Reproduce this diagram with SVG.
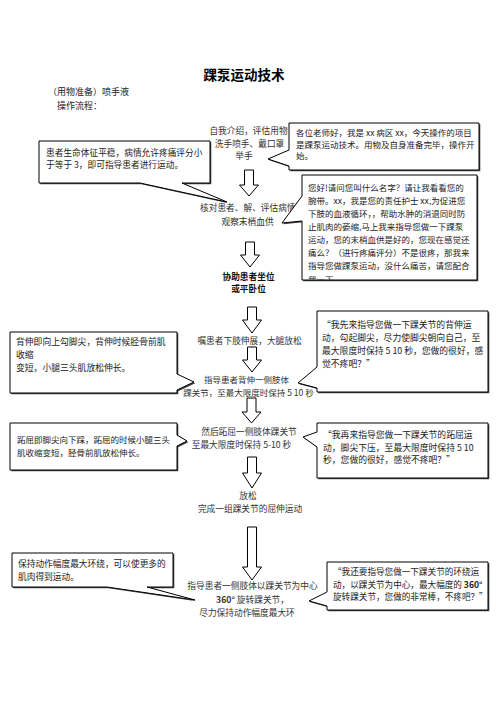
<svg xmlns="http://www.w3.org/2000/svg" width="496" height="702" viewBox="0 0 496 702">
<style>
text{font-family:'Noto Sans CJK SC','Noto Sans',sans-serif;fill:#222;font-size:8.7px}
.m{text-anchor:middle;fill:#333}
.b{font-weight:bold;fill:#111}
.c{fill:#fff;stroke:#000;stroke-width:1}
.sh{fill:#444;stroke:none}
.ar{fill:#fff;stroke:#000;stroke-width:1}
</style>
<defs>
<clipPath id="clip2"><rect x="303" y="176" width="173" height="103.5"/></clipPath>
</defs>
<rect width="496" height="702" fill="#fff"/>
<g id="header">
<text x="244" y="80" class="m b" style="font-size:13.5px;fill:#000">踝泵运动技术</text>
<text x="48" y="95" style="font-size:9px">（用物准备）喷手液</text>
<text x="57" y="109" style="font-size:9px">操作流程：</text>
</g>
<g id="connectors">
<path class="ar" d="M244.5,170 H253.5 V185 H258.5 L249,196 L239.5,185 H244.5 Z"/>
<path class="ar" d="M245.5,242 H254.5 V255 H259.5 L250,267 L240.5,255 H245.5 Z"/>
<path class="ar" d="M247.5,307 H256.5 V320 H261.5 L252,333 L242.5,320 H247.5 Z"/>
<path class="ar" d="M247.5,347 H256.5 V360 H261.5 L252,372 L242.5,360 H247.5 Z"/>
<path class="ar" d="M247,398 H256 V412 H261 L251.5,423 L242,412 H247 Z"/>
<path class="ar" d="M247.5,457 H256.5 V473 H261.5 L252,488 L242.5,473 H247.5 Z"/>
<path class="ar" d="M247.5,527 H256.5 V567 H261.5 L252,580 L242.5,567 H247.5 Z"/>
</g>
<g id="step1">
<text x="248.5" y="134" class="m">自我介绍，评估用物</text>
<text x="249.5" y="147" class="m">洗手喷手、戴口罩</text>
<text x="244" y="159" class="m">举手</text>
</g>
<g id="step2">
<text x="200" y="211" style="fill:#333">核对患者、解、评估病情</text>
<text x="247.5" y="225" class="m">观察末梢血供</text>
</g>
<g id="step3">
<text x="248.5" y="280" class="m b">协助患者坐位</text>
<text x="248.5" y="292" class="m b">或平卧位</text>
</g>
<g id="step4">
<text x="249.5" y="344" class="m">嘱患者下肢伸展，大腿放松</text>
</g>
<g id="step5">
<text x="246.5" y="382.5" class="m" style="font-size:8.5px">指导患者背伸一侧肢体</text>
<text x="248.5" y="395.5" class="m" style="font-size:8.5px">踝关节，至最大限度时保持 5 10 秒</text>
</g>
<g id="step6">
<text x="249" y="435" class="m">然后跖屈一侧肢体踝关节</text>
<text x="241.5" y="447.5" class="m">至最大限度时保持 5-10 秒</text>
</g>
<g id="step7">
<text x="248" y="499" class="m">放松</text>
<text x="250" y="512" class="m">完成一组踝关节的屈伸运动</text>
</g>
<g id="step8">
<text x="252.5" y="589" class="m">指导患者一侧肢体以踝关节为中心</text>
<text x="252.5" y="602.5" class="m"><tspan font-weight="bold">360°</tspan> 旋转踝关节，</text>
<text x="247" y="615.5" class="m">尽力保持动作幅度最大环</text>
</g>
<g id="note-intro">
<path class="sh" transform="translate(1.3,1.3)" d="M289,123 H479 V170 H289 V166 L268,159 L289,150 Z"/>
<path class="c" d="M289,123 H479 V170 H289 V166 L268,159 L289,150 Z"/>
<text x="296" y="136" style="font-size:8.5px">各位老师好，我是 xx 病区 xx，今天操作的项目</text>
<text x="296" y="147.5" style="font-size:8.5px">是踝泵运动技术。用物及自身准备完毕，操作开</text>
<text x="296" y="159" style="font-size:8.5px">始。</text>
</g>
<g id="note-vitals">
<path class="sh" transform="translate(1.3,1.3)" d="M39,141 H210 V183 H182 L227,202 L140,183 H39 Z"/>
<path class="c" d="M39,141 H210 V183 H182 L227,202 L140,183 H39 Z"/>
<text x="46" y="156">患者生命体征平稳，病情允许疼痛评分小</text>
<text x="46" y="168">于等于 3，即可指导患者进行运动。</text>
</g>
<g id="note-check">
<path class="sh" transform="translate(1.3,1.3)" d="M302,175 H477 V280 H302 V221 L282,223 L302,196 Z"/>
<path class="c" d="M302,175 H477 V280 H302 V221 L282,223 L302,196 Z"/>
<g clip-path="url(#clip2)">
<text x="308" y="191" style="font-size:8.5px">您好!请问您叫什么名字？请让我看看您的</text>
<text x="308" y="204" style="font-size:8.5px">腕带。xx，我是您的责任护士 xx,为促进您</text>
<text x="308" y="217" style="font-size:8.5px">下肢的血液循环，，帮助水肿的消退同时防</text>
<text x="308" y="230" style="font-size:8.5px">止肌肉的萎缩,马上我来指导您做一下踝泵</text>
<text x="308" y="243" style="font-size:8.5px">运动，您的末梢血供是好的，您现在感觉还</text>
<text x="308" y="256" style="font-size:8.5px">痛么？（进行疼痛评分）不是很疼，那我来</text>
<text x="308" y="269" style="font-size:8.5px">指导您做踝泵运动，没什么痛苦，请您配合</text>
<text x="308" y="282.5" style="font-size:8.5px">我一下</text>
</g>
</g>
<g id="note-dorsi">
<path class="sh" transform="translate(1.3,1.3)" d="M10,332 H177 V374 L194,382 L177,390 V393 H10 Z"/>
<path class="c" d="M10,332 H177 V374 L194,382 L177,390 V393 H10 Z"/>
<text x="16" y="345" style="font-size:8.8px">背伸即向上勾脚尖，背伸时候胫骨前肌</text>
<text x="16" y="358" style="font-size:8.8px">收缩</text>
<text x="16" y="371" style="font-size:8.8px">变短，小腿三头肌放松伸长。</text>
</g>
<g id="note-dorsi-say">
<path class="sh" transform="translate(1.3,1.3)" d="M317,311 H488 V392 H317 V388 L298,383 L317,367 Z"/>
<path class="c" d="M317,311 H488 V392 H317 V388 L298,383 L317,367 Z"/>
<text x="322" y="327.5" style="font-size:8.8px">“我先来指导您做一下踝关节的背伸运</text>
<text x="322" y="340.8" style="font-size:8.8px">动，勾起脚尖，尽力使脚尖朝向自己，至</text>
<text x="322" y="354.1" style="font-size:8.8px">最大限度时保持 5 10 秒，您做的很好，感</text>
<text x="322" y="367.4" style="font-size:8.8px">觉不疼吧？”</text>
</g>
<g id="note-plantar">
<path class="sh" transform="translate(1.3,1.3)" d="M10,423 H177 V435 L187,441 L177,446 V470 H10 Z"/>
<path class="c" d="M10,423 H177 V435 L187,441 L177,446 V470 H10 Z"/>
<text x="17" y="443" style="font-size:8.5px">跖屈即脚尖向下踩，跖屈的时候小腿三头</text>
<text x="17" y="456" style="font-size:8.5px">肌收缩变短，胫骨前肌放松伸长。</text>
</g>
<g id="note-plantar-say">
<path class="sh" transform="translate(1.3,1.3)" d="M317,423 H488 V478 H317 V447 L303,437 L317,432 Z"/>
<path class="c" d="M317,423 H488 V478 H317 V447 L303,437 L317,432 Z"/>
<text x="323" y="438" style="font-size:8.8px">“我再来指导您做一下踝关节的跖屈运</text>
<text x="323" y="450.5" style="font-size:8.8px">动，脚尖下压，至最大限度时保持  5 10</text>
<text x="323" y="463" style="font-size:8.8px">秒，您做的很好，感觉不疼吧？”</text>
</g>
<g id="note-circle">
<path class="sh" transform="translate(1.3,1.3)" d="M12,553 H173 V587 H147 L195,600 L107,587 H12 Z"/>
<path class="c" d="M12,553 H173 V587 H147 L195,600 L107,587 H12 Z"/>
<text x="18" y="567">保持动作幅度最大环绕，可以使更多的</text>
<text x="18" y="580">肌肉得到运动。</text>
</g>
<g id="note-circle-say">
<path class="sh" transform="translate(1.3,1.3)" d="M327,562 H488 V610 H327 V606 L309,601 L327,592 Z"/>
<path class="c" d="M327,562 H488 V610 H327 V606 L309,601 L327,592 Z"/>
<text x="333" y="575" style="font-size:8.6px">“我还要指导您做一下踝关节的环绕运</text>
<text x="333" y="587.5" style="font-size:8.6px">动，以踝关节为中心，最大幅度的 <tspan font-weight="bold">360°</tspan></text>
<text x="333" y="600" style="font-size:8.6px">旋转踝关节，您做的非常棒，不疼吧？”</text>
</g>
</svg>
